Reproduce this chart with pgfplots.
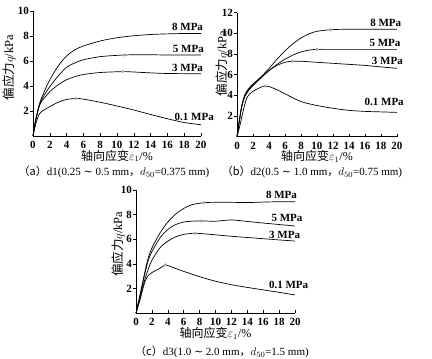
\documentclass[border=0pt]{standalone}
\usepackage{pgfplots}
\pgfplotsset{compat=1.18}
\usepackage{fontspec}
\setmainfont{Liberation Serif}
\newfontfamily\cjk{Noto Sans CJK SC}
\newfontfamily\sym{DejaVu Serif}
\begin{document}
\begin{tikzpicture}
\path (0,0) rectangle (432pt,359pt);
\tikzset{mpa/.style={font=\fontsize{11}{13}\selectfont\bfseries, inner sep=1pt}}
\pgfplotsset{
  panel/.style={
    scale only axis, anchor=origin,
    axis lines*=left, axis line style={black, line width=0.6pt},
    xmin=0, xmax=20, ymin=0,
    xtick={0,2,...,20},
    tick align=inside, major tick length=3pt,
    tick style={black, line width=0.5pt},
    y tick style={xshift=-3pt},
    tick label style={font=\fontsize{11}{13}\selectfont\bfseries, inner sep=0.5pt},
    /pgf/number format/assume math mode=true,
    xticklabel style={anchor=center, yshift=-9pt},
    yticklabel style={anchor=east, xshift=-3.5pt},
    xlabel={{\cjk 轴向应变}$\varepsilon_1$/\%},
    xlabel style={font=\fontsize{12}{14}\selectfont, inner sep=0.5pt, at={(axis description cs:0.5,0)}, anchor=center, yshift=-20pt},
    ylabel={{\cjk 偏应力}$q$/kPa},
    ylabel style={font=\fontsize{12.5}{14}\selectfont, inner sep=0.5pt, anchor=center, rotate=0},
    clip=false,
  },
  crv/.style={black, line width=0.7pt, smooth, tension=0.5, no marks},
  pk/.style={only marks, mark=*, mark size=1.4pt, color=gray!70},
}
% (a)
\begin{axis}[panel, at={(33pt,223pt)}, width=168pt, height=125pt, ymax=10, ytick={2,4,6,8,10},
  ylabel style={at={(axis description cs:-0.143,0.548)}}]
\addplot[crv] coordinates {(0,0) (0.3,1.2) (0.7,2.4) (1,3.0) (1.5,3.8) (2,4.5) (3,5.6) (4,6.4) (5,6.9) (6,7.2) (8,7.6) (10,7.86) (12,8.02) (14,8.12) (16,8.17) (18,8.2) (20,8.2)};
\addplot[crv] coordinates {(0,0) (0.3,1.2) (0.7,2.3) (1,2.85) (1.5,3.45) (2,3.95) (3,4.8) (4,5.5) (5,5.85) (6,6.1) (8,6.35) (10,6.45) (10.9,6.48) (12,6.5) (14,6.5) (16,6.48) (20,6.48)};
\addplot[crv] coordinates {(0,0) (0.3,1.2) (0.7,2.3) (1,2.75) (1.5,3.15) (2,3.55) (3,4.1) (4,4.5) (5,4.75) (6,4.92) (8,5.08) (10.7,5.15) (12,5.12) (14,5.05) (16,5.0) (20,4.98)};
\addplot[crv] coordinates {(0,0) (0.3,0.9) (0.7,1.7) (1,1.95) (2,2.35) (3,2.7) (4,2.92) (5.15,3.0) (6,2.95) (8,2.7) (10,2.4) (12,2.08) (14,1.72) (16,1.38) (18,1.08) (20,0.9)};
\addplot[pk] coordinates {(10.9,6.48) (10.7,5.15) (5.15,3.0)};
\node[mpa] at (axis cs:18.4,8.75) {8 MPa};
\node[mpa] at (axis cs:18.5,6.96) {5 MPa};
\node[mpa] at (axis cs:18.4,5.47) {3 MPa};
\node[mpa] at (axis cs:19.2,1.55) {0.1 MPa};
\end{axis}
% (b)
\begin{axis}[panel, at={(237pt,222.3pt)}, width=160pt, height=124pt, ymax=12, ytick={2,4,6,8,10,12},
  ylabel style={at={(axis description cs:-0.092,0.59)}}]
\addplot[crv] coordinates {(0,0) (0.3,1.6) (0.6,3.0) (1,4.1) (1.5,4.7) (2,5.1) (3,5.8) (4,6.6) (5,7.5) (6,8.3) (7,9.0) (8,9.55) (9,9.95) (10,10.2) (11.7,10.35) (14,10.4) (20,10.4)};
\addplot[crv] coordinates {(0,0) (0.3,1.6) (0.6,3.0) (1,4.0) (1.5,4.6) (2,5.0) (3,5.7) (4,6.4) (5,7.0) (6,7.5) (7,7.9) (8,8.2) (9,8.38) (10,8.45) (12,8.45) (20,8.45)};
\addplot[crv] coordinates {(0,0) (0.3,1.5) (0.6,2.9) (1,3.9) (1.5,4.5) (2,4.95) (3,5.7) (4,6.4) (5,6.9) (6,7.2) (6.9,7.3) (8,7.3) (10,7.2) (12,7.1) (14,7.0) (16,6.9) (18,6.75) (20,6.62)};
\addplot[crv] coordinates {(0,0) (0.4,1.2) (0.8,2.6) (1.2,3.7) (1.6,4.15) (2,4.4) (3,4.8) (3.5,4.9) (4,4.85) (5,4.55) (6,4.15) (8,3.4) (10,3.02) (12,2.75) (14,2.55) (16,2.45) (18,2.4) (20,2.35)};
\addplot[pk] coordinates {(11.7,10.35) (10,8.45) (6.9,7.3) (3.5,4.9)};
\node[mpa] at (axis cs:18.6,11.0) {8 MPa};
\node[mpa] at (axis cs:18.5,9.1) {5 MPa};
\node[mpa] at (axis cs:18.8,7.3) {3 MPa};
\node[mpa] at (axis cs:18.4,3.4) {0.1 MPa};
\end{axis}
% (c)
\begin{axis}[panel, at={(136pt,45.7pt)}, width=159pt, height=123.3pt, ymax=10, ytick={2,4,6,8,10},
  ylabel style={at={(axis description cs:-0.113,0.56)}}]
\addplot[crv] coordinates {(0,0) (0.5,1.5) (1,3.0) (1.5,4.4) (2,5.3) (3,6.5) (4,7.4) (5,8.05) (6,8.5) (7,8.8) (8.55,8.97) (10,9.0) (12,9.0) (14,8.98) (16,9.02) (18,9.05) (20,9.05)};
\addplot[crv] coordinates {(0,0) (0.5,1.4) (1,2.9) (1.5,4.2) (2,5.0) (3,6.1) (4,6.8) (5,7.2) (6,7.4) (7,7.47) (8.2,7.49) (10,7.47) (12,7.57) (14,7.45) (16,7.32) (18,7.2) (20,7.08)};
\addplot[crv] coordinates {(0,0) (0.5,1.2) (1,2.5) (1.5,3.5) (2,4.3) (3,5.3) (4,5.85) (5,6.2) (6,6.4) (7.4,6.49) (9,6.42) (12,6.25) (14,6.15) (16,6.05) (18,5.95) (20,5.86)};
\addplot[crv] coordinates {(0,0) (0.5,1.1) (1,2.3) (1.4,2.95) (2,3.3) (3,3.65) (3.7,3.92) (4.5,3.75) (6,3.4) (8,2.97) (10,2.6) (12,2.32) (14,2.1) (16,1.9) (18,1.7) (20,1.49)};
\addplot[pk] coordinates {(8.55,8.97) (8.2,7.49) (7.4,6.49) (3.7,3.92)};
\node[mpa] at (axis cs:18.3,9.6) {8 MPa};
\node[mpa] at (axis cs:19.0,7.76) {5 MPa};
\node[mpa] at (axis cs:18.7,6.35) {3 MPa};
\node[mpa] at (axis cs:19.2,2.3) {0.1 MPa};
\end{axis}
\node[font=\fontsize{11}{13}\selectfont, inner sep=1pt] at (114pt,187pt) {{\cjk （a）}d1(0.25 {\sym\char"223C} 0.5 mm{\cjk ，}$d_{50}$=0.375 mm)};
\node[font=\fontsize{11}{13}\selectfont, inner sep=1pt] at (312pt,187pt) {{\cjk （b）}d2(0.5 {\sym\char"223C} 1.0 mm{\cjk ，}$d_{50}$=0.75 mm)};
\node[font=\fontsize{11}{13}\selectfont, inner sep=1pt] at (222pt,7pt) {{\cjk （c）}d3(1.0 {\sym\char"223C} 2.0 mm{\cjk ，}$d_{50}$=1.5 mm)};
\end{tikzpicture}
\end{document}
